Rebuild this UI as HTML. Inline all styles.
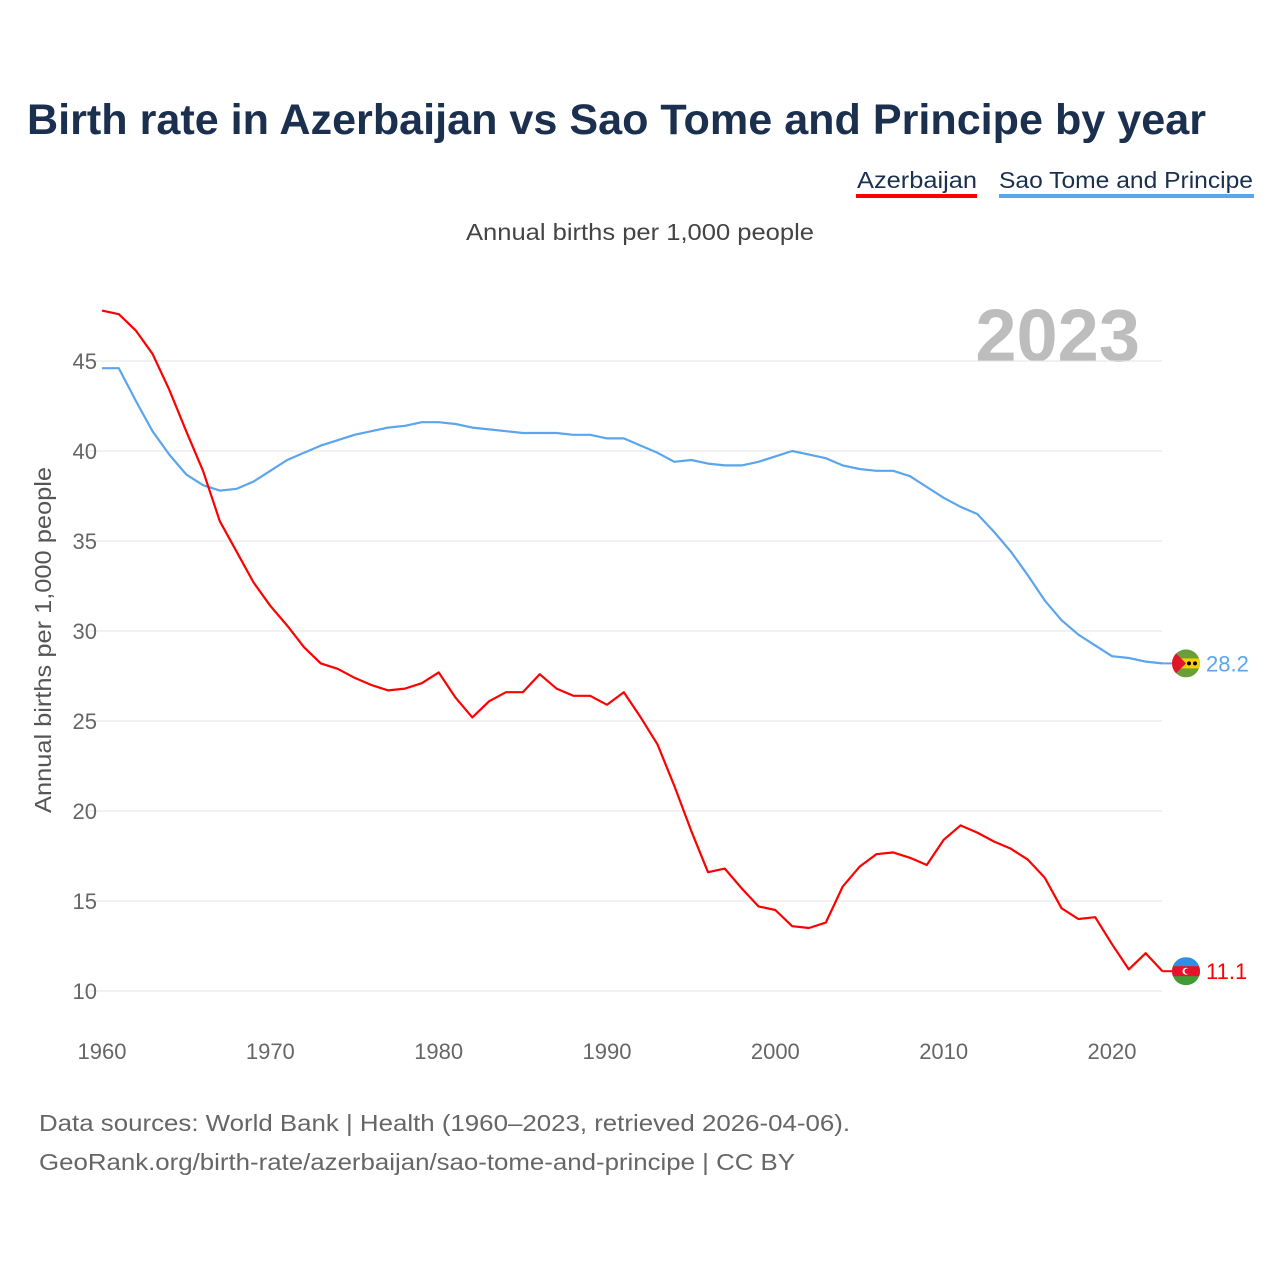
<!DOCTYPE html>
<html><head><meta charset="utf-8">
<style>
html,body{margin:0;padding:0;background:#fff;width:1280px;height:1280px;overflow:hidden;font-family:"Liberation Sans",sans-serif;}
</style></head>
<body>
<svg id="chart" width="1280" height="1280" xmlns="http://www.w3.org/2000/svg" font-family="Liberation Sans, sans-serif">
<defs>
<clipPath id="c1"><circle cx="1186" cy="0" r="14"/></clipPath>
</defs>
<text x="27" y="134" font-size="43" font-weight="bold" fill="#1b2f4e" textLength="1179" lengthAdjust="spacingAndGlyphs">Birth rate in Azerbaijan vs Sao Tome and Principe by year</text>
<g><text x="857" y="188" font-size="23" fill="#1b2f4e" textLength="120" lengthAdjust="spacingAndGlyphs">Azerbaijan</text><rect x="856" y="194" width="121" height="4" fill="#f00"/></g>
<g><text x="999" y="188" font-size="23" fill="#1b2f4e" textLength="254" lengthAdjust="spacingAndGlyphs">Sao Tome and Principe</text><rect x="999" y="194" width="255" height="4" fill="#5aa5ee"/></g>
<text x="466" y="240" font-size="23" fill="#444" textLength="348" lengthAdjust="spacingAndGlyphs">Annual births per 1,000 people</text>
<text x="1140" y="361" font-size="74" font-weight="bold" fill="#bdbdbd" text-anchor="end">2023</text>
<text transform="translate(51,640) rotate(-90)" font-size="23" fill="#555" text-anchor="middle" textLength="346" lengthAdjust="spacingAndGlyphs">Annual births per 1,000 people</text>
<g id="grid"></g><g id="xt"></g><g id="series"></g><g id="ends"></g>
<text x="39" y="1131" font-size="23" fill="#666" textLength="811" lengthAdjust="spacingAndGlyphs">Data sources: World Bank | Health (1960–2023, retrieved 2026-04-06).</text>
<text x="39" y="1170" font-size="23" fill="#666" textLength="756" lengthAdjust="spacingAndGlyphs">GeoRank.org/birth-rate/azerbaijan/sao-tome-and-principe | CC BY</text>
</svg>
<script>
const years=[];for(let y=1960;y<=2023;y++)years.push(y);
const azerbaijan=[47.8,47.6,46.7,45.4,43.4,41.1,38.9,36.1,34.4,32.7,31.4,30.3,29.1,28.2,27.9,27.4,27.0,26.7,26.8,27.1,27.7,26.3,25.2,26.1,26.6,26.6,27.6,26.8,26.4,26.4,25.9,26.6,25.2,23.7,21.4,18.9,16.6,16.8,15.7,14.7,14.5,13.6,13.5,13.8,15.8,16.9,17.6,17.7,17.4,17.0,18.4,19.2,18.8,18.3,17.9,17.3,16.3,14.6,14.0,14.1,12.6,11.2,12.1,11.1];
const saoTome=[44.6,44.6,42.8,41.1,39.8,38.7,38.1,37.8,37.9,38.3,38.9,39.5,39.9,40.3,40.6,40.9,41.1,41.3,41.4,41.6,41.6,41.5,41.3,41.2,41.1,41.0,41.0,41.0,40.9,40.9,40.7,40.7,40.3,39.9,39.4,39.5,39.3,39.2,39.2,39.4,39.7,40.0,39.8,39.6,39.2,39.0,38.9,38.9,38.6,38.0,37.4,36.9,36.5,35.5,34.4,33.1,31.7,30.6,29.8,29.2,28.6,28.5,28.3,28.2];
const yTicks=[10,15,20,25,30,35,40,45];
const xTicks=[1960,1970,1980,1990,2000,2010,2020];
const NS="http://www.w3.org/2000/svg";
const X=v=>102+(v-1960)*(1112-102)/60;
const Y=v=>991-(v-10)*18;
function mk(tag,attrs,parent){const e=document.createElementNS(NS,tag);for(const k in attrs)e.setAttribute(k,attrs[k]);parent.appendChild(e);return e;}
const grid=document.getElementById('grid');
yTicks.forEach(t=>{
  const l=mk('line',{x1:88,x2:1162,y1:Y(t),y2:Y(t),stroke:'#e3e3e3','stroke-width':1},grid);
  
  
  const tx=mk('text',{x:97,y:Y(t)+8,'font-size':22,fill:'#666','text-anchor':'end'},grid);tx.textContent=t;
  
  
});
const xt=document.getElementById('xt');
xTicks.forEach(t=>{
  const tx=mk('text',{x:X(t),y:1059,'font-size':22,fill:'#666','text-anchor':'middle'},xt);tx.textContent=t;
  
  
});
const ser=document.getElementById('series');
function line(vals,color,name){
  const d=vals.map((v,i)=>(i?'L':'M')+X(years[i]).toFixed(1)+','+Y(v).toFixed(1)).join('');
  const p=mk('path',{d:d,fill:'none',stroke:color,'stroke-width':2.2,'stroke-linejoin':'round'},ser);
  
  
}
line(saoTome,'#5aa5ee','sao-tome-line');
line(azerbaijan,'#f00','azerbaijan-line');
const ends=document.getElementById('ends');
function endLabel(vals,color,name,flag){
  const v=vals[vals.length-1],y=Y(v),cx=1186;
  const g=mk('g',{},ends);
  
  
  mk('line',{x1:X(2023),x2:cx-12,y1:y,y2:y,stroke:color,'stroke-width':2},g);
  const f=mk('g',{transform:`translate(0,${y})`,'clip-path':'url(#c1)'},g);
  flag(f,cx,0);
  const t=mk('text',{x:1206,y:y+8,'font-size':22,fill:color},g);t.textContent=v.toFixed(1);
}
endLabel(saoTome,'#5aa5ee','sao-tome-end-label',(g,cx,y)=>{
  mk('rect',{x:cx-14,y:y-14,width:28,height:28,fill:'#6a9e3a'},g);
  mk('rect',{x:cx-14,y:y-5,width:28,height:10,fill:'#f5d000'},g);
  mk('path',{d:`M${cx-14},${y-14}L${cx},${y}L${cx-14},${y+14}Z`,fill:'#e0162b'},g);
  mk('circle',{cx:cx+3,cy:y,r:2,fill:'#000'},g);mk('circle',{cx:cx+9,cy:y,r:2,fill:'#000'},g);
});
endLabel(azerbaijan,'#f00','azerbaijan-end-label',(g,cx,y)=>{
  mk('rect',{x:cx-14,y:y-14,width:28,height:28,fill:'#3f9c35'},g);
  mk('rect',{x:cx-14,y:y-14,width:28,height:9,fill:'#2f8fe8'},g);
  mk('rect',{x:cx-14,y:y-5,width:28,height:10,fill:'#e8112d'},g);
  mk('circle',{cx:cx,cy:y,r:3.5,fill:'#fff'},g);mk('circle',{cx:cx+1.3,cy:y,r:2.8,fill:'#e8112d'},g);
});
</script>
</body></html>
